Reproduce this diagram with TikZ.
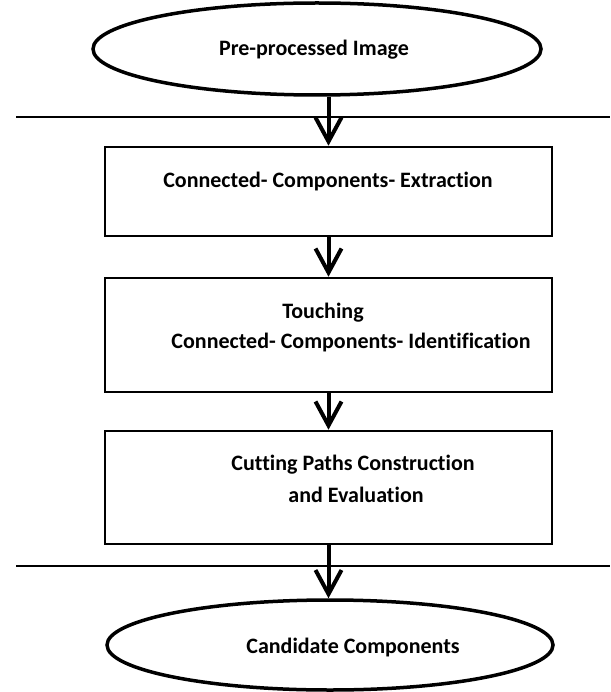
\documentclass[tikz,border=0pt]{standalone}
\usepackage{fontspec}
\setmainfont{Carlito}[Ligatures=NoCommon]
\usetikzlibrary{shapes.geometric,arrows.meta}
\begin{document}
\begin{tikzpicture}[x=1pt,y=-1pt,
  oval/.style={ellipse,draw,line width=3.5pt,inner sep=0pt},
  stepbox/.style={rectangle,draw,line width=2.6pt,minimum width=447pt,inner sep=0pt},
  lbl/.style={font=\fontsize{22}{26}\selectfont\bfseries,inner sep=0pt,align=center},
  rule/.style={line width=2.3pt},
  flow/.style={line width=4pt,-{Straight Barb[length=24pt,width=26pt,line width=4pt]}}]
\useasboundingbox (0,0) rectangle (610,692);
% shapes
\node[oval,minimum width=448pt,minimum height=92pt] (top) at (317,49) {};
\node[stepbox,minimum height=89pt] (b1) at (328.5,191.5) {};
\node[stepbox,minimum height=114pt] (b2) at (328.5,335) {};
\node[stepbox,minimum height=113pt] (b3) at (328.5,487.5) {};
\node[oval,minimum width=446pt,minimum height=90pt] (bot) at (330,645) {};
% texts
\node[lbl] (t0) at (314,50) {Pre-processed Image};
\node[lbl] (t1) at (328,182) {Connected- Components- Extraction};
\node[lbl] (t2a) at (323,313) {Touching};
\node[lbl] (t2b) at (351,343) {Connected- Components- Identification};
\node[lbl] (t3a) at (353,465) {Cutting Paths Construction};
\node[lbl] (t3b) at (356,495) {and Evaluation};
\node[lbl] (t4) at (353,648) {Candidate Components};
% horizontal rules
\coordinate (r1a) at (16,117); \coordinate (r1b) at (610,117);
\coordinate (r2a) at (16,566); \coordinate (r2b) at (610,566);
\draw[rule] (r1a) -- (r1b);
\draw[rule] (r2a) -- (r2b);
% arrows
\draw[flow] (b1.north |- top.south) -- (b1.north);
\draw[flow] (b1.south) -- (b2.north);
\draw[flow] (b2.south) -- (b3.north);
\draw[flow] (b3.south) -- (b3.south |- bot.north);
\end{tikzpicture}
\end{document}
